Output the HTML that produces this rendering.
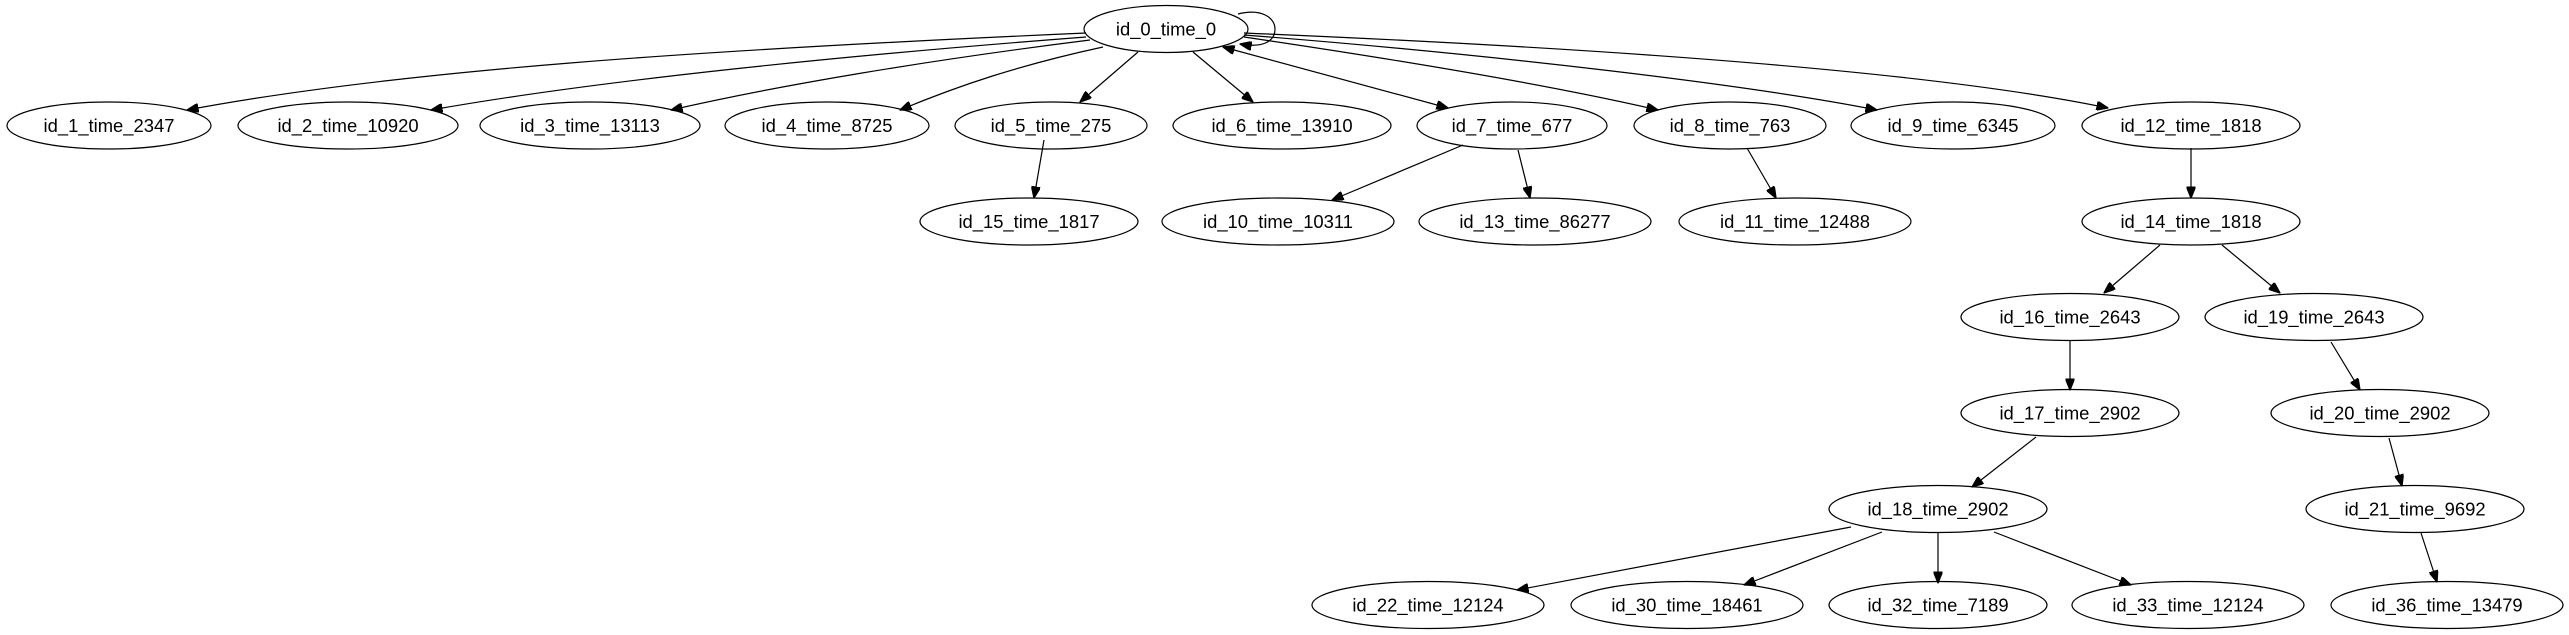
<!DOCTYPE html>
<html><head><meta charset="utf-8"><style>
html,body{margin:0;padding:0;background:#fff;}
svg{display:block;}
text{font-family:"Liberation Sans",sans-serif;font-size:18.4px;fill:#000;text-anchor:middle;dominant-baseline:central;}
ellipse{fill:none;stroke:#000;stroke-width:1.2;}
path{fill:none;stroke:#000;stroke-width:1.2;}
</style></head><body>
<svg width="2569" height="635" viewBox="0 0 2569 635" xmlns="http://www.w3.org/2000/svg">
<defs>
<marker id="a" viewBox="0 0 10 8" refX="10" refY="4" markerWidth="12" markerHeight="9" markerUnits="userSpaceOnUse" orient="auto"><path d="M0,0 L10,4 L0,8 z" style="fill:#000;stroke:#000"/></marker>
<marker id="b" viewBox="0 0 10 8" refX="10" refY="4" markerWidth="12" markerHeight="9" markerUnits="userSpaceOnUse" orient="auto-start-reverse"><path d="M0,0 L10,4 L0,8 z" style="fill:#000;stroke:#000"/></marker>
</defs>
<!-- edges from id_0 -->
<path marker-end="url(#a)" d="M1086,33 C700,50 400,70 187,110"/>
<path marker-end="url(#a)" d="M1086,37 C850,55 600,80 431,110"/>
<path marker-end="url(#a)" d="M1090,40 C930,60 780,85 671,110"/>
<path marker-end="url(#a)" d="M1103,47 C1020,65 960,85 900,110"/>
<path marker-end="url(#a)" d="M1138,52 L1080,102"/>
<path marker-end="url(#a)" d="M1193,52 L1253,102"/>
<path marker-start="url(#b)" marker-end="url(#a)" d="M1223,47 L1448,108"/>
<path marker-end="url(#a)" d="M1244,37 C1400,60 1550,85 1658,110"/>
<path marker-end="url(#a)" d="M1244,35 C1500,55 1750,85 1877,110"/>
<path marker-end="url(#a)" d="M1244,33 C1650,50 1950,75 2108,108"/>
<path marker-end="url(#a)" d="M1238,14 C1262,8 1275,18 1275,29 C1275,42 1262,48 1240,44"/>
<!-- lower edges -->
<path marker-end="url(#a)" d="M1044,140 L1034,198"/>
<path marker-end="url(#a)" d="M1463,145 L1332,200"/>
<path marker-end="url(#a)" d="M1518,150 L1530,198"/>
<path marker-end="url(#a)" d="M1747,148 L1776,198"/>
<path marker-end="url(#a)" d="M2191,148 L2191,198"/>
<path marker-end="url(#a)" d="M2160,245 L2104,293"/>
<path marker-end="url(#a)" d="M2222,245 L2280,293"/>
<path marker-end="url(#a)" d="M2070,340 L2070,390"/>
<path marker-end="url(#a)" d="M2331,342 L2360,390"/>
<path marker-end="url(#a)" d="M2036,437 L1972,487"/>
<path marker-end="url(#a)" d="M2389,438 L2402,486"/>
<path marker-end="url(#a)" d="M1851,527 L1517,590"/>
<path marker-end="url(#a)" d="M1882,532 L1744,585"/>
<path marker-end="url(#a)" d="M1938,532 L1938,583"/>
<path marker-end="url(#a)" d="M1994,532 L2131,585"/>
<path marker-end="url(#a)" d="M2421,533 L2437,582"/>
<!-- nodes -->
<ellipse cx="1166" cy="29" rx="82" ry="23.5"/><text x="1166" y="29">id_0_time_0</text>
<ellipse cx="109" cy="125.5" rx="102" ry="23.5"/><text x="109" y="125.5">id_1_time_2347</text>
<ellipse cx="348" cy="125.5" rx="110" ry="23.5"/><text x="348" y="125.5">id_2_time_10920</text>
<ellipse cx="590" cy="125.5" rx="110" ry="23.5"/><text x="590" y="125.5">id_3_time_13113</text>
<ellipse cx="827" cy="125.5" rx="102" ry="23.5"/><text x="827" y="125.5">id_4_time_8725</text>
<ellipse cx="1051" cy="125.5" rx="96" ry="23.5"/><text x="1051" y="125.5">id_5_time_275</text>
<ellipse cx="1282" cy="125.5" rx="109" ry="23.5"/><text x="1282" y="125.5">id_6_time_13910</text>
<ellipse cx="1512" cy="125.5" rx="95" ry="23.5"/><text x="1512" y="125.5">id_7_time_677</text>
<ellipse cx="1730" cy="125.5" rx="96" ry="23.5"/><text x="1730" y="125.5">id_8_time_763</text>
<ellipse cx="1953" cy="125.5" rx="102" ry="23.5"/><text x="1953" y="125.5">id_9_time_6345</text>
<ellipse cx="2191" cy="125.5" rx="109" ry="23.5"/><text x="2191" y="125.5">id_12_time_1818</text>
<ellipse cx="1029" cy="221.5" rx="109" ry="23.5"/><text x="1029" y="221.5">id_15_time_1817</text>
<ellipse cx="1278" cy="221.5" rx="116" ry="23.5"/><text x="1278" y="221.5">id_10_time_10311</text>
<ellipse cx="1535" cy="221.5" rx="116" ry="23.5"/><text x="1535" y="221.5">id_13_time_86277</text>
<ellipse cx="1795" cy="221.5" rx="116" ry="23.5"/><text x="1795" y="221.5">id_11_time_12488</text>
<ellipse cx="2191" cy="221.5" rx="109" ry="23.5"/><text x="2191" y="221.5">id_14_time_1818</text>
<ellipse cx="2070" cy="317" rx="109" ry="23.5"/><text x="2070" y="317">id_16_time_2643</text>
<ellipse cx="2314" cy="317" rx="109" ry="23.5"/><text x="2314" y="317">id_19_time_2643</text>
<ellipse cx="2070" cy="413" rx="109" ry="23.5"/><text x="2070" y="413">id_17_time_2902</text>
<ellipse cx="2380" cy="413" rx="109" ry="23.5"/><text x="2380" y="413">id_20_time_2902</text>
<ellipse cx="1938" cy="509" rx="109" ry="23.5"/><text x="1938" y="509">id_18_time_2902</text>
<ellipse cx="2415" cy="509" rx="109" ry="23.5"/><text x="2415" y="509">id_21_time_9692</text>
<ellipse cx="1428" cy="605" rx="116" ry="23.5"/><text x="1428" y="605">id_22_time_12124</text>
<ellipse cx="1687" cy="605" rx="116" ry="23.5"/><text x="1687" y="605">id_30_time_18461</text>
<ellipse cx="1938" cy="605" rx="109" ry="23.5"/><text x="1938" y="605">id_32_time_7189</text>
<ellipse cx="2188" cy="605" rx="116" ry="23.5"/><text x="2188" y="605">id_33_time_12124</text>
<ellipse cx="2447" cy="605" rx="116" ry="23.5"/><text x="2447" y="605">id_36_time_13479</text>
</svg>
</body></html>
